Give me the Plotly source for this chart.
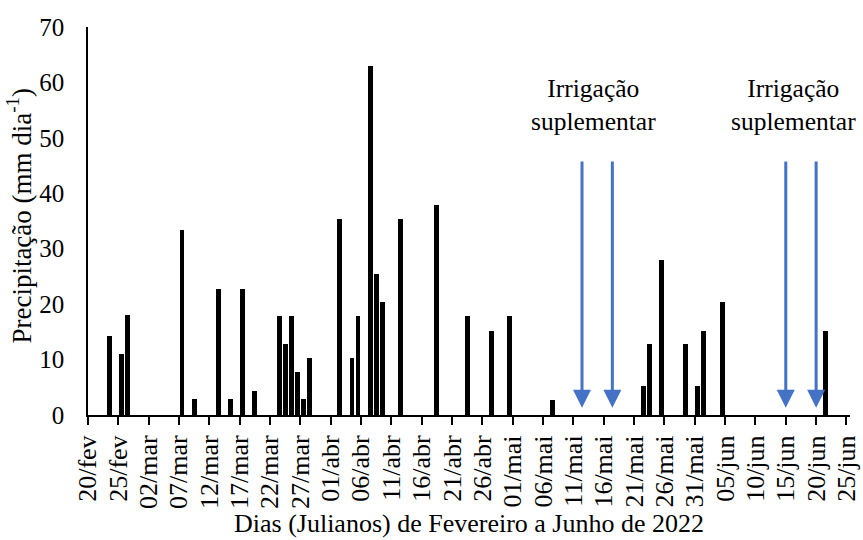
import plotly.graph_objects as go
import pandas as pd

# Data: daily precipitation (mm/day)
dates = ["2022-02-23", "2022-02-25", "2022-02-26", "2022-03-07", "2022-03-09",
         "2022-03-13", "2022-03-15", "2022-03-17", "2022-03-19", "2022-03-23",
         "2022-03-24", "2022-03-25", "2022-03-26", "2022-03-27", "2022-03-28",
         "2022-04-02", "2022-04-04", "2022-04-05", "2022-04-07", "2022-04-08",
         "2022-04-09", "2022-04-12", "2022-04-18", "2022-04-23", "2022-04-27",
         "2022-04-30", "2022-05-07", "2022-05-22", "2022-05-23", "2022-05-25",
         "2022-05-29", "2022-05-31", "2022-06-01", "2022-06-04", "2022-06-21"]
precip = [14.3, 11.0, 18.0, 33.3, 2.8,
          22.7, 2.8, 22.7, 4.3, 17.8,
          12.8, 17.8, 7.8, 2.8, 10.3,
          35.4, 10.3, 17.8, 63.0, 25.5,
          20.3, 35.3, 37.8, 17.8, 15.2,
          17.8, 2.7, 5.3, 12.8, 27.9,
          12.8, 5.3, 15.2, 20.3, 15.2]

# Supplementary irrigation arrows
irrig_dates = ["2022-05-12 10:00", "2022-05-17 10:00", "2022-06-15", "2022-06-20"]
irrig_labels = ["Irrigação<br>suplementar", "Irrigação<br>suplementar"]
irrig_label_dates = ["2022-05-14 08:00", "2022-06-16 08:00"]

tick_vals = ["2022-02-20", "2022-02-25", "2022-03-02", "2022-03-07", "2022-03-12",
             "2022-03-17", "2022-03-22", "2022-03-27", "2022-04-01", "2022-04-06",
             "2022-04-11", "2022-04-16", "2022-04-21", "2022-04-26", "2022-05-01",
             "2022-05-06", "2022-05-11", "2022-05-16", "2022-05-21", "2022-05-26",
             "2022-05-31", "2022-06-05", "2022-06-10", "2022-06-15", "2022-06-20",
             "2022-06-25"]
tick_text = ["20/fev", "25/fev", "02/mar", "07/mar", "12/mar", "17/mar", "22/mar",
             "27/mar", "01/abr", "06/abr", "11/abr", "16/abr", "21/abr", "26/abr",
             "01/mai", "06/mai", "11/mai", "16/mai", "21/mai", "26/mai", "31/mai",
             "05/jun", "10/jun", "15/jun", "20/jun", "25/jun"]

FONT = "Liberation Serif, Times New Roman, serif"
DAY_MS = 86400000

fig = go.Figure()
fig.add_trace(go.Bar(
    x=dates, y=precip,
    xperiod=DAY_MS, xperiodalignment="middle",
    width=0.8 * DAY_MS,
    marker=dict(color="black", line=dict(width=0)),
    showlegend=False,
))

for d in irrig_dates:
    fig.add_annotation(
        x=d, y=1.3, xref="x", yref="y",
        ax=d, ay=46, axref="x", ayref="y",
        text="", showarrow=True,
        arrowhead=2, arrowsize=1.2, arrowwidth=3, arrowcolor="#4472C4",
    )

for d, t in zip(irrig_label_dates, irrig_labels):
    fig.add_annotation(
        x=d, y=55.9, xref="x", yref="y",
        text=t, showarrow=False,
        font=dict(family=FONT, size=25.5, color="black"),
        xanchor="center", yanchor="middle", align="center",
    )

fig.add_annotation(
    x=-0.09, y=0.515, xref="paper", yref="paper",
    text="Precipitação (mm dia<sup>-1</sup>)", textangle=-90,
    showarrow=False, font=dict(family=FONT, size=27, color="black"),
    xanchor="center", yanchor="middle",
)

fig.update_layout(
    width=863, height=540,
    margin=dict(l=88, r=13, t=27, b=125),
    paper_bgcolor="white", plot_bgcolor="white",
    font=dict(family=FONT, size=26, color="black"),
    bargap=0,
)

fig.update_xaxes(
    type="date",
    range=["2022-02-20", "2022-06-25 14:00"],
    tickvals=tick_vals, ticktext=tick_text,
    tickangle=-90,
    tickfont=dict(family=FONT, size=26, color="black"),
    ticks="outside", ticklen=8, tickwidth=2, tickcolor="black",
    showline=True, linecolor="black", linewidth=2,
    showgrid=False, zeroline=False,
    title=dict(text="Dias (Julianos) de Fevereiro a Junho de 2022",
               font=dict(family=FONT, size=26, color="black"), standoff=6),
    automargin=False,
)
fig.update_yaxes(
    range=[0, 70], dtick=10,
    tickfont=dict(family=FONT, size=25, color="black"),
    ticks="", showline=True, linecolor="black", linewidth=1.5,
    showgrid=False, zeroline=False,
    ticklabelstandoff=17,
    automargin=False,
)

fig.write_html("out.html")
